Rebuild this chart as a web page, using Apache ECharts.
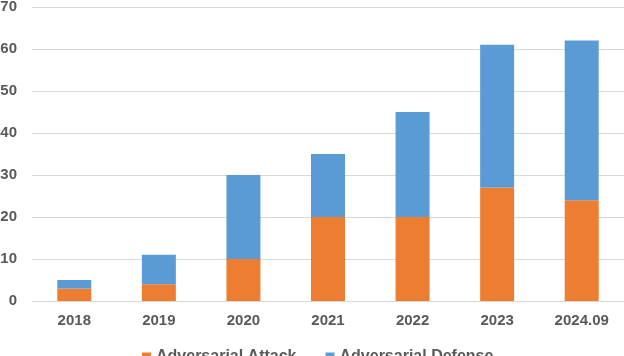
<!DOCTYPE html>
<html>
<head>
<meta charset="utf-8">
<title>Adversarial papers</title>
<script src="https://cdn.jsdelivr.net/npm/echarts@6/dist/echarts.min.js"></script>
<style>
  html, body { margin: 0; padding: 0; background: #fff; }
  #main { width: 624px; height: 356px; }
</style>
</head>
<body>
<div id="main"></div>
<script>
  // data
  var years = ['2018', '2019', '2020', '2021', '2022', '2023', '2024.09'];
  var attack = [3, 4, 10, 20, 20, 27, 24];
  var defense = [2, 7, 20, 15, 25, 34, 38];

  var labelFont = { color: '#595959', fontSize: 15, fontWeight: 'bold', fontFamily: 'Liberation Sans, Arial, sans-serif' };

  var chart = echarts.init(document.getElementById('main'));
  var option = {
    animation: false,
    grid: { left: 32, right: 0, top: 7, bottom: 55, outerBoundsMode: 'none', containLabel: false },
    legend: {
      data: ['Adversarial Attack', 'Adversarial Defense'],
      top: 349,
      left: 142,
      padding: 0,
      itemWidth: 9,
      itemHeight: 9,
      itemGap: 29,
      icon: 'rect',
      textStyle: { color: '#595959', fontSize: 16, fontWeight: 'bold', fontFamily: 'Liberation Sans, Arial, sans-serif' }
    },
    xAxis: {
      type: 'category',
      data: years,
      axisTick: { show: false },
      axisLine: { lineStyle: { color: '#d9d9d9', width: 1 } },
      axisLabel: Object.assign({ margin: 12 }, labelFont)
    },
    yAxis: {
      type: 'value',
      min: 0,
      max: 70,
      interval: 10,
      axisLine: { show: false },
      axisTick: { show: false },
      splitLine: { lineStyle: { color: '#d9d9d9', width: 1 } },
      axisLabel: Object.assign({ margin: 15 }, labelFont)
    },
    series: [
      {
        name: 'Adversarial Attack',
        type: 'bar',
        stack: 'total',
        barWidth: 34,
        itemStyle: { color: '#ED7D31' },
        data: attack
      },
      {
        name: 'Adversarial Defense',
        type: 'bar',
        stack: 'total',
        barWidth: 34,
        itemStyle: { color: '#5B9BD5' },
        data: defense
      }
    ]
  };
  chart.setOption(option);
</script>
</body>
</html>
